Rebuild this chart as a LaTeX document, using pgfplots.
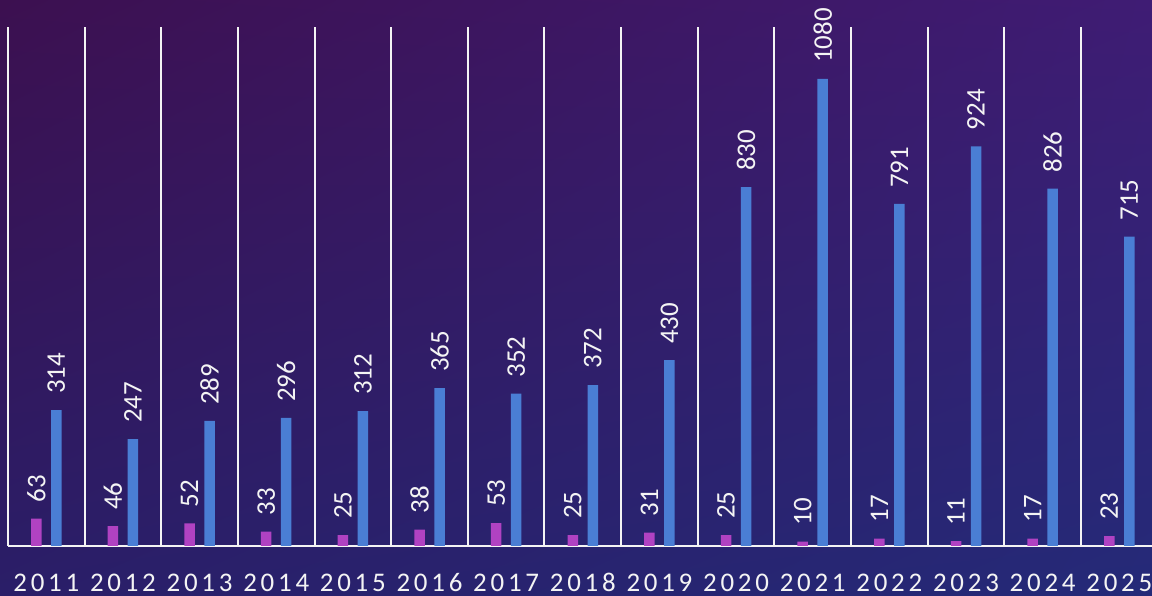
\documentclass[border=0pt]{standalone}
\usepackage{fontspec}
\setmainfont{Carlito}
\newfontfamily\spaced[LetterSpace=14]{Carlito}
\usepackage{pgfplots}
\pgfplotsset{compat=1.18}
\usetikzlibrary{shadings}
\definecolor{bgUL}{HTML}{3C1050}
\definecolor{bgUR}{HTML}{3F1C74}
\definecolor{bgLL}{HTML}{2A1E68}
\definecolor{bgLR}{HTML}{242A78}
\definecolor{barMag}{HTML}{B042C2}
\definecolor{barBlue}{HTML}{4A7ED4}
\definecolor{txt}{HTML}{F4F4F4}
\begin{document}
\begin{tikzpicture}
\begin{axis}[
  set layers,
  scale only axis, width=1149.6bp, height=519bp,
  xmin=-0.5, xmax=14.5, ymin=0, ymax=1200,
  axis x line*=bottom, axis y line=none,
  x axis line style={-, draw=txt, line width=2bp},
  xtick={0,...,14},
  xticklabels={2011,2012,2013,2014,2015,2016,2017,2018,2019,2020,2021,2022,2023,2024,2025},
  xticklabel style={anchor=base, yshift=-45.5bp, text=txt, font=\spaced\fontsize{27}{27}\selectfont},
  major tick length=0pt, minor tick length=0pt,
  minor xtick={-0.5,0.5,...,14.5},
  xminorgrids=true,
  minor grid style={draw=txt, line width=2bp},
  ytick=\empty,
  ybar, bar width=10.5bp,
  nodes near coords,
  /pgf/number format/assume math mode=true,
  /pgf/number format/1000 sep={},
  every node near coord/.append style={rotate=90, anchor=west, text=txt,
    font=\fontsize{27}{27}\selectfont, inner xsep=16bp, inner ysep=0pt},
  clip=false,
]
\begin{pgfonlayer}{axis background}
\shade[upper left=bgUL, upper right=bgUR, lower left=bgLL, lower right=bgLR]
  (axis cs:-0.60438,-115.6) rectangle (axis cs:14.427,1262.4);
\end{pgfonlayer}
\coordinate (bgSW) at (axis cs:-0.60438,-115.6);
\coordinate (bgNE) at (axis cs:14.427,1262.4);
\addplot[fill=barMag, draw=none, bar shift=-10bp] coordinates {
(0,63) (1,46) (2,52) (3,33) (4,25) (5,38) (6,53) (7,25) (8,31) (9,25) (10,10) (11,17) (12,11) (13,17) (14,23)};
\addplot[fill=barBlue, draw=none, bar shift=10bp] coordinates {
(0,314) (1,247) (2,289) (3,296) (4,312) (5,365) (6,352) (7,372) (8,430) (9,830) (10,1080) (11,791) (12,924) (13,826) (14,715)};
\end{axis}
\pgfresetboundingbox
\path[use as bounding box] (bgSW) rectangle (bgNE);
\end{tikzpicture}
\end{document}
